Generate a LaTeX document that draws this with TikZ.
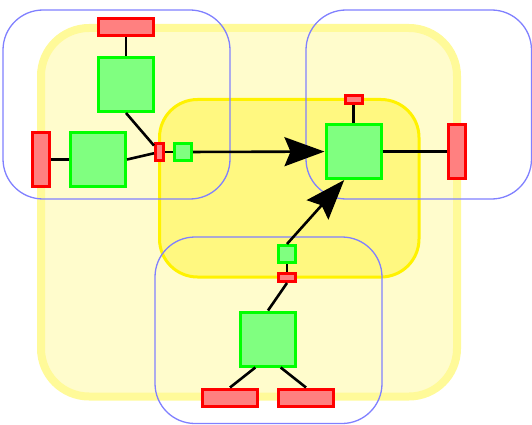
\documentclass[tikz,border=0pt]{standalone}
\usepackage{tikz}
\usetikzlibrary{arrows.meta,positioning}

\begin{document}
\begin{tikzpicture}[x=1pt,y=-1pt]
\tikzset{
  comp/.style={draw=green,fill=green!50,line width=3pt,inner sep=0pt,minimum width=55pt,minimum height=54pt},
  sock/.style={draw=green,fill=green!50,line width=3pt,inner sep=0pt,minimum size=17pt},
  hbar/.style={draw=red,fill=red!50,line width=3pt,inner sep=0pt,minimum width=55pt,minimum height=17pt},
  vbar/.style={draw=red,fill=red!50,line width=3pt,inner sep=0pt,minimum width=17pt,minimum height=54pt},
  hpin/.style={draw=red,fill=red!50,line width=3pt,inner sep=0pt,minimum width=17pt,minimum height=8pt},
  vpin/.style={draw=red,fill=red!50,line width=3pt,inner sep=0pt,minimum width=8pt,minimum height=17pt},
  grp/.style={draw=blue!50,line width=1.3pt,rounded corners=40pt},
  wire/.style={line width=2.6pt,draw=black},
  flow/.style={wire,-{Stealth[length=40pt,width=29pt,inset=6pt]}}
}
\useasboundingbox (0,0) rectangle (532,425);
\draw[draw=yellow!40,fill=yellow!20,line width=8pt,rounded corners=48pt] (41,28) rectangle (457,396.5);
\draw[draw=yellow,fill=yellow!50,line width=3pt,rounded corners=38pt] (159.5,99.5) rectangle (419,277);
\draw[grp] (3,10) rectangle (230,199);
\draw[grp] (306,10) rectangle (531.5,199);
\draw[grp] (155,237) rectangle (382,423.5);

\node(tgA)[comp] at (126,84.5) {};
\node(trA)[hbar,above=19pt of tgA] {};
\node(lgA)[comp] at (98,159.5) {};
\node(lrA)[vbar,left=18pt of lgA] {};
\node(pA)[vpin] at (159.5,152) {};
\node(sgA)[sock,right=8pt of pA] {};

\node(bgR)[comp] at (353.5,151.5) {};
\node(ptR)[hpin,above=18pt of bgR] {};
\node(rrR)[vbar,right=64pt of bgR] {};

\node(bgB)[comp] at (268,339) {};
\node(pB)[hpin] at (287,277.5) {};
\node(sgB)[sock,above=8pt of pB] {};
\node(rbL)[hbar] at (230,397.5) {};
\node(rbR)[hbar] at (306,397.5) {};

\draw[wire](trA)--(tgA); \draw[wire](lrA)--(lgA);
\draw[wire](tgA.south)--(pA); \draw[wire](lgA.east)--(pA); \draw[wire](pA)--(sgA);
\draw[flow](sgA)--(bgR);
\draw[wire](ptR)--(bgR); \draw[wire](bgR)--(rrR);
\draw[wire](bgB.north)--(pB.south); \draw[wire](pB)--(sgB);
\draw[flow](sgB.north)--(bgR.-108);
\draw[wire](rbL.north)--(bgB.-114); \draw[wire](rbR.north)--(bgB.-66);
\end{tikzpicture}
\end{document}
